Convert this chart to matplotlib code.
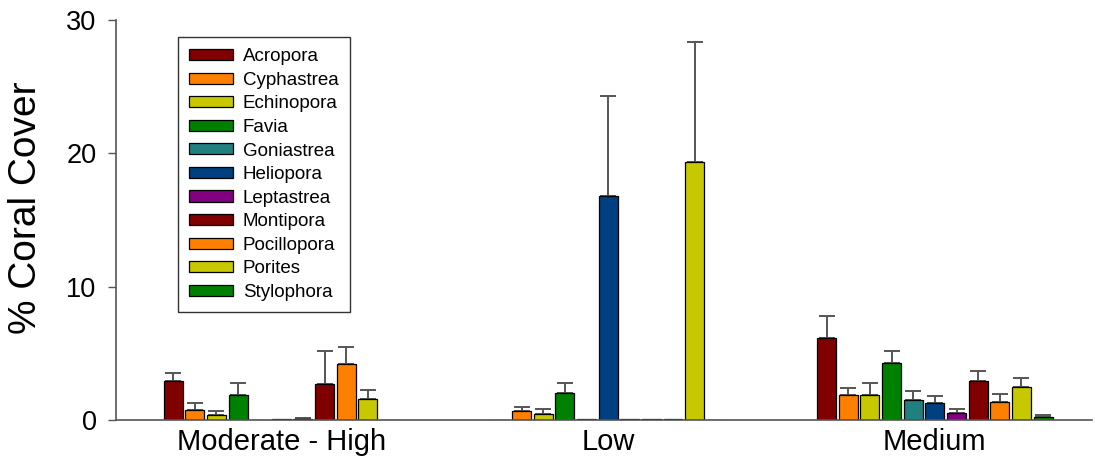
import matplotlib
matplotlib.use("Agg")
import matplotlib.pyplot as plt
import numpy as np

plt.rcParams['font.family'] = ['Liberation Sans', 'DejaVu Sans']

groups = ["Moderate - High", "Low", "Medium"]
genera = ["Acropora", "Cyphastrea", "Echinopora", "Favia", "Goniastrea", "Heliopora",
          "Leptastrea", "Montipora", "Pocillopora", "Porites", "Stylophora"]
colors = ["#800000", "#FF8000", "#C8C800", "#008000", "#208080", "#004080",
          "#800080", "#800000", "#FF8000", "#C8C800", "#008000"]

# mean % cover per genus, per group (Moderate-High, Low, Medium)
means = {
    "Acropora":    [2.9, 0.0, 6.15],
    "Cyphastrea":  [0.75, 0.7, 1.85],
    "Echinopora":  [0.37, 0.43, 1.85],
    "Favia":       [1.87, 2.0, 4.27],
    "Goniastrea":  [0.0, 0.08, 1.52],
    "Heliopora":   [0.05, 16.8, 1.27],
    "Leptastrea":  [0.1, 0.05, 0.55],
    "Montipora":   [2.7, 0.1, 2.9],
    "Pocillopora": [4.18, 0.05, 1.35],
    "Porites":     [1.57, 19.35, 2.47],
    "Stylophora":  [0.0, 0.02, 0.25],
}
errs = {
    "Acropora":    [0.6, 0.0, 1.65],
    "Cyphastrea":  [0.55, 0.3, 0.55],
    "Echinopora":  [0.3, 0.42, 0.9],
    "Favia":       [0.93, 0.75, 0.9],
    "Goniastrea":  [0.0, 0.0, 0.68],
    "Heliopora":   [0.0, 7.5, 0.53],
    "Leptastrea":  [0.05, 0.0, 0.27],
    "Montipora":   [2.45, 0.0, 0.8],
    "Pocillopora": [1.32, 0.0, 0.6],
    "Porites":     [0.68, 9.0, 0.68],
    "Stylophora":  [0.0, 0.0, 0.1],
}

fig = plt.figure(figsize=(10.95, 4.75), dpi=100)
ax = fig.add_axes([116/1095, 1-420/475, 1-116/1095-0.003, 400/475])

x = np.arange(len(groups))
step = 0.0662
width = 0.058
for i, g in enumerate(genera):
    pos = x + (i - 5) * step
    m = np.array(means[g])
    e = np.array(errs[g])
    ax.bar(pos, m, width=width, color=colors[i], edgecolor="black", linewidth=0.9,
           label=g, zorder=2)
    mask = e > 0
    ax.errorbar(pos[mask], m[mask], yerr=[np.zeros(mask.sum()), e[mask]], fmt="none",
                ecolor="#555555", elinewidth=1.4, capsize=6, capthick=1.4, zorder=1)

ax.set_xlim(-0.506, 2.48)
ax.set_ylim(0, 30)
ax.set_yticks([0, 10, 20, 30])
ax.set_xticks(x)
ax.set_xticklabels(groups, fontsize=21)
ax.tick_params(axis='x', length=0, pad=6)
ax.tick_params(axis='y', labelsize=19.5, length=6, width=1, color="#555555", pad=8)
for s in ["top", "right"]:
    ax.spines[s].set_visible(False)
for s in ["left", "bottom"]:
    ax.spines[s].set_color("#555555")
    ax.spines[s].set_linewidth(1.2)
ax.set_ylabel("% Coral Cover", fontsize=28)
ax.yaxis.set_label_coords(-0.074, 0.53)

leg = ax.legend(loc="upper left", bbox_to_anchor=(178/1095, 1-37/475),
                bbox_transform=fig.transFigure, borderaxespad=0, fontsize=13.5,
                frameon=True, fancybox=False, edgecolor="black", handlelength=2.35,
                handleheight=0.53, handletextpad=0.5, labelspacing=0.35, borderpad=0.6)
leg.get_frame().set_linewidth(1.0)

fig.savefig("out.png", dpi=100)
